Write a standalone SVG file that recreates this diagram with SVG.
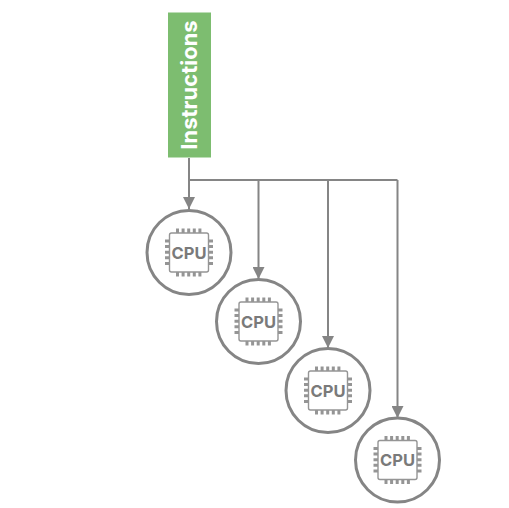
<svg xmlns="http://www.w3.org/2000/svg" width="509" height="508" viewBox="0 0 509 508">
<style>
.l{fill:none;stroke:#858585;stroke-width:2}
.ring{fill:#fff;stroke:#858585;stroke-width:3}
.chip{fill:#fff;stroke:#959595;stroke-width:1.4}
.pin{fill:none;stroke:#959595;stroke-width:5;stroke-dasharray:3 2.6}
.t{font:700 16.5px "Inter","Noto Sans",sans-serif;fill:#7a7a7a;text-anchor:middle}
</style>
<defs>
<marker id="a" markerWidth="13" markerHeight="12" refX="12" refY="6" orient="auto" markerUnits="userSpaceOnUse"><path d="M0 0L12 6L0 12z" fill="#858585"/></marker>
<g id="cpu">
<circle class="ring" r="42"/>
<path class="pin" d="M-13 -21.500H14M-13 21.500H14M-21.500 -13V14M21.500 -13V14"/>
<rect class="chip" x="-19.500" y="-19.500" width="39" height="39" rx="2"/>
</g>
</defs>
<rect width="509" height="508" fill="#fff"/>
<g id="connectors">
<path class="l" d="M189 158V209" marker-end="url(#a)"/>
<path class="l" d="M189 180H397.500"/>
<path class="l" d="M258.500 180V279" marker-end="url(#a)"/>
<path class="l" d="M328 180V348" marker-end="url(#a)"/>
<path class="l" d="M397.500 180V418" marker-end="url(#a)"/>
</g>
<g id="instructions">
<rect x="168" y="12.500" width="43" height="145" fill="#7dbd70"/>
<text transform="translate(197 85) rotate(-90)" font-family="Inter, 'Noto Sans', sans-serif" font-size="22" font-weight="700" fill="#fff" text-anchor="middle">Instructions</text>
</g>
<g id="cpu1" transform="translate(189 252.500)"><use href="#cpu"/><text class="t" y="6">CPU</text></g>
<g id="cpu2" transform="translate(258.500 321.500)"><use href="#cpu"/><text class="t" y="6">CPU</text></g>
<g id="cpu3" transform="translate(328 390.500)"><use href="#cpu"/><text class="t" y="6">CPU</text></g>
<g id="cpu4" transform="translate(397.500 460)"><use href="#cpu"/><text class="t" y="6">CPU</text></g>
</svg>
